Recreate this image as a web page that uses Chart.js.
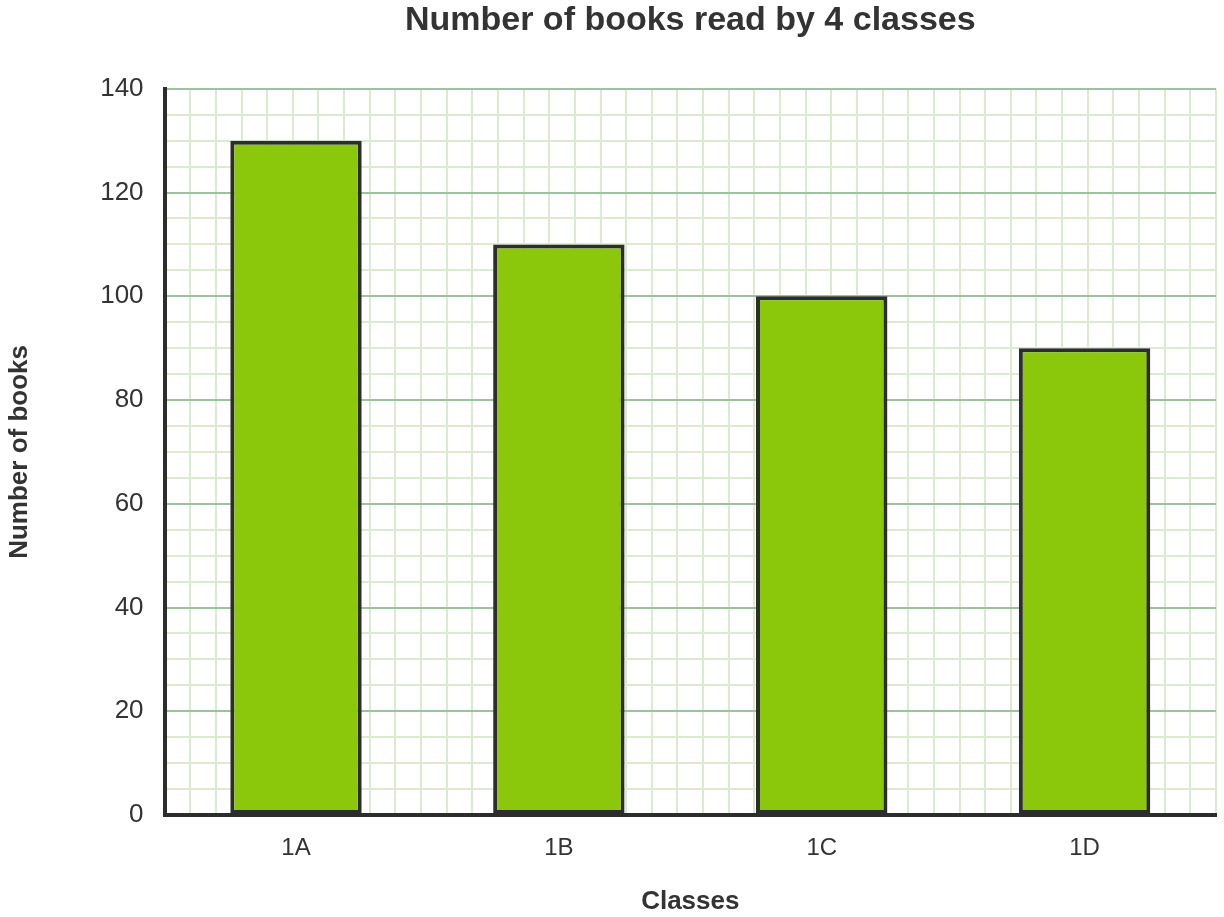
<!DOCTYPE html>
<html>
<head>
<meta charset="utf-8">
<script src="https://cdn.jsdelivr.net/npm/chart.js@4"></script>
<style>
html,body{margin:0;padding:0;background:#fff;}
#wrap{width:1224px;height:917px;}
</style>
</head>
<body>
<div id="wrap"><canvas id="c" width="1224" height="917"></canvas></div>
<script>
const categories = ['1A', '1B', '1C', '1D'];
const books = [130, 110, 100, 90];
const yTickLabels = [0, 20, 40, 60, 80, 100, 120, 140];

const FONT = "'Liberation Sans', Arial, sans-serif";
const TXT = '#333333';
const AXIS = '#2d2d2d';
const MINOR = '#dcebd0';
const MAJOR = '#9dc29d';

new Chart(document.getElementById('c'), {
  type: 'bar',
  data: {
    labels: categories,
    datasets: [{
      data: books,
      backgroundColor: '#8bc70a',
      borderColor: AXIS,
      borderWidth: 4,
      borderSkipped: false,
      barPercentage: 0.5,
      categoryPercentage: 1.0
    }]
  },
  options: {
    responsive: false,
    animation: false,
    devicePixelRatio: 1,
    layout: { padding: { top: 0, right: 8, bottom: 0, left: 4 } },
    plugins: {
      legend: { display: false },
      tooltip: { enabled: false },
      title: {
        display: true,
        fullSize: false,
        text: 'Number of books read by 4 classes',
        color: TXT,
        font: { family: FONT, size: 34, weight: 'bold' },
        padding: { top: 0, bottom: 48 }
      }
    },
    scales: {
      x: {
        type: 'category',
        grid: { display: false, drawTicks: false },
        border: { display: true, color: AXIS, width: 4 },
        ticks: { color: TXT, font: { family: FONT, size: 24 }, padding: 19 },
        title: {
          display: true, text: 'Classes', color: TXT,
          font: { family: FONT, size: 26, weight: 'bold' },
          padding: { top: 4, bottom: 0 }
        }
      },
      x2: {
        type: 'linear',
        position: 'bottom',
        display: true,
        min: 0, max: 40,
        ticks: { display: false, stepSize: 1 },
        grid: { color: MINOR, lineWidth: 2, drawTicks: false },
        border: { display: false }
      },
      y: {
        min: 0, max: 140,
        grid: {
          drawTicks: false,
          lineWidth: 2,
          color: (ctx) => (ctx.tick && ctx.tick.value % 20 === 0) ? MAJOR : MINOR
        },
        border: { display: true, color: AXIS, width: 4 },
        ticks: {
          stepSize: 5,
          padding: 21,
          color: TXT,
          font: { family: FONT, size: 26 },
          autoSkip: false,
          callback: (v) => yTickLabels.includes(v) ? String(v) : ''
        },
        title: {
          display: true, text: 'Number of books', color: TXT,
          font: { family: FONT, size: 26, weight: 'bold' },
          padding: { top: 0, bottom: 44 }
        }
      }
    }
  }
});
</script>
</body>
</html>
